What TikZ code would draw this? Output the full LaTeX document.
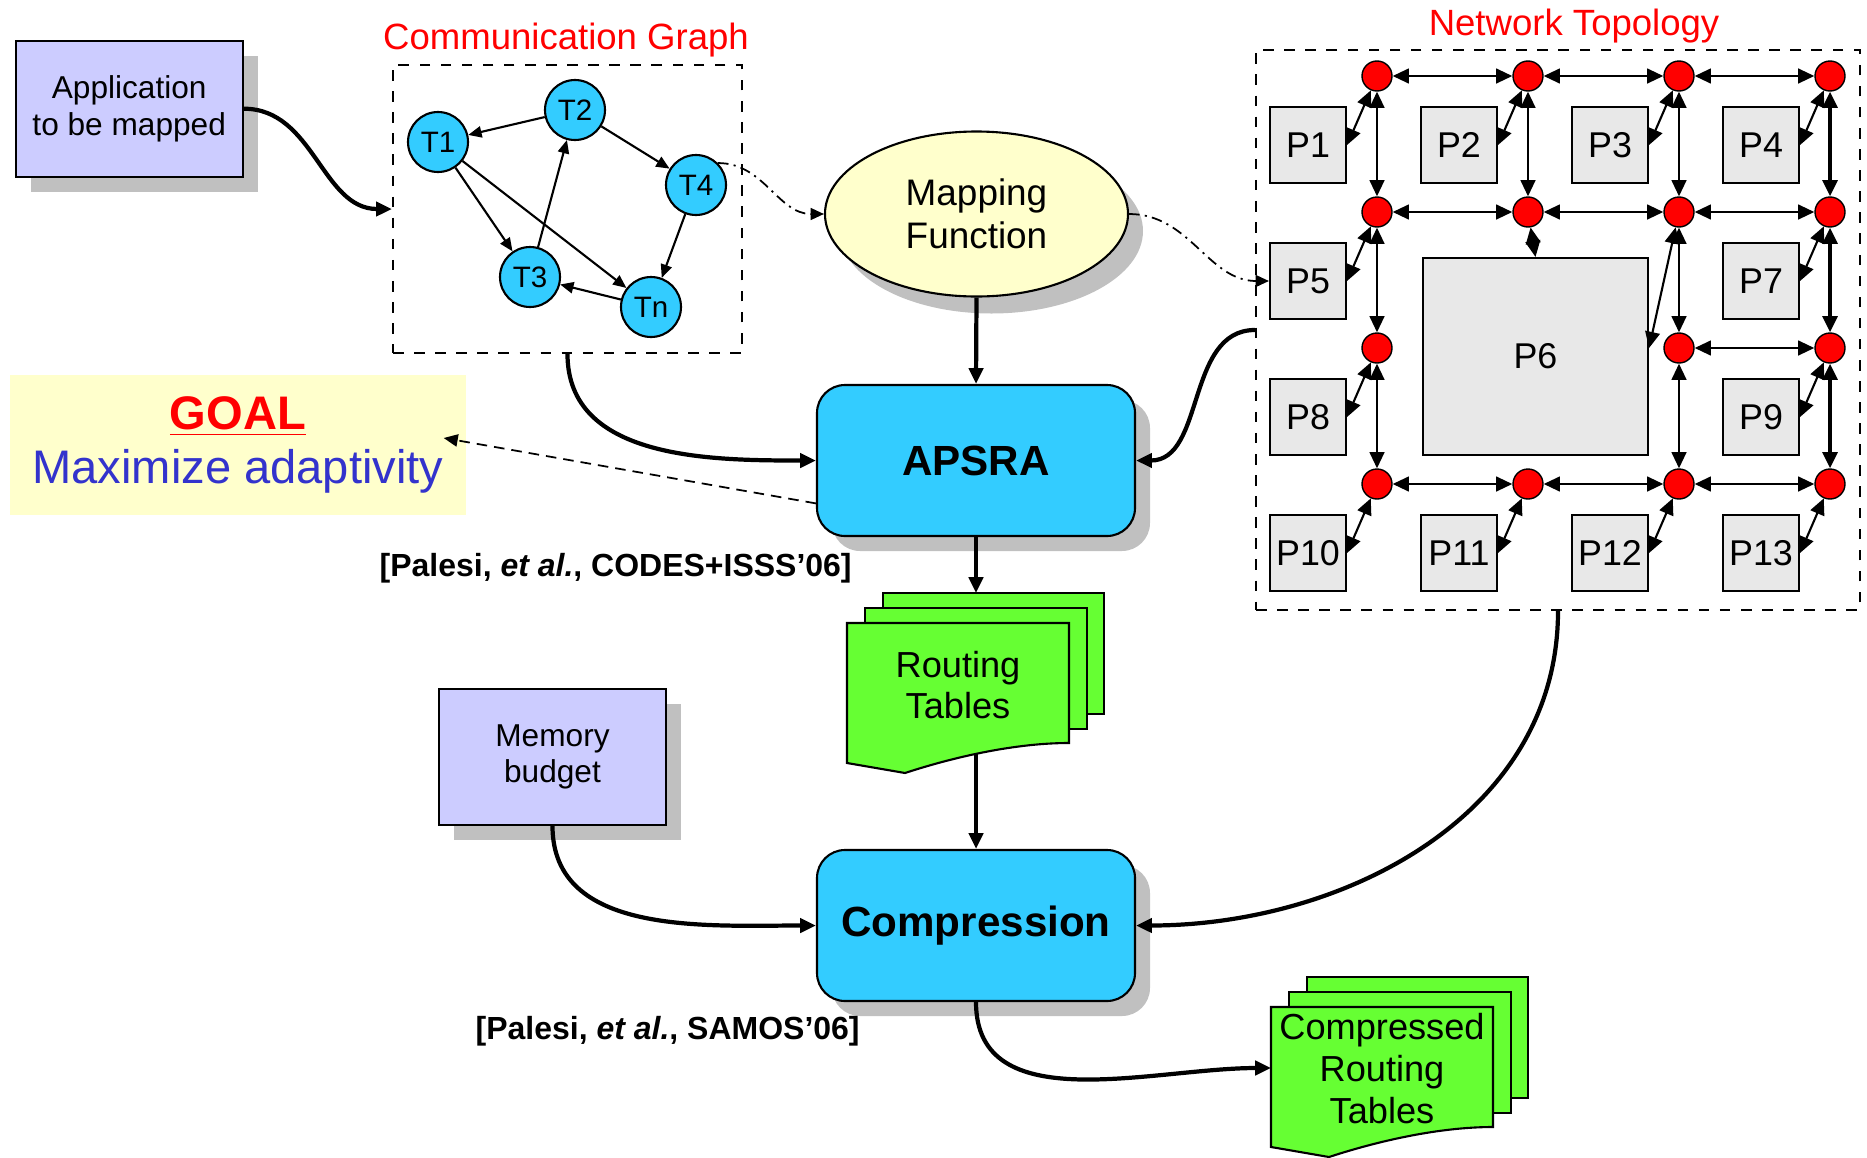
\documentclass[tikz,border=0pt]{standalone}
\usepackage{fontspec}
\setmainfont{Liberation Sans}
\usepackage{xcolor}
\usepackage{tikz}
\usetikzlibrary{arrows.meta,shapes.geometric,shadows}
\definecolor{plilac}{RGB}{204,204,255}
\definecolor{pshadow}{RGB}{192,192,192}
\definecolor{pcyan}{RGB}{51,204,255}
\definecolor{pcream}{RGB}{255,255,204}
\definecolor{pgreen}{RGB}{102,255,51}
\definecolor{pgray}{RGB}{232,232,232}
\definecolor{pblue}{RGB}{51,51,204}

\tikzset{
  shadebox/.style={drop shadow={shadow xshift=0.15cm, shadow yshift=-0.15cm, fill=pshadow, opacity=1}},
  inputbox/.style={draw, semithick, fill=plilac, shadebox, minimum width=2.27cm, minimum height=1.36cm, align=center, font=\fontsize{9}{10.4}\selectfont},
  task/.style={circle, draw, semithick, fill=pcyan, minimum size=0.6cm, inner sep=0pt, font=\fontsize{8.4}{10}\selectfont},
  stage/.style={draw, semithick, fill=pcyan, rounded corners=0.28cm, shadebox, minimum width=3.18cm, minimum height=1.51cm, font=\fontsize{12}{14}\selectfont\bfseries},
  router/.style={circle, draw, fill=red, minimum size=0.3cm, inner sep=0pt},
  core/.style={draw, semithick, fill=pgray, minimum size=0.76cm, inner sep=0pt, font=\fontsize{10.2}{12}\selectfont},
  sheet/.style={draw, semithick, fill=pgreen},
  sheettext/.style={align=center, inner sep=0pt, font=\fontsize{10.3}{11.9}\selectfont},
  title/.style={text=red, inner sep=0pt, font=\fontsize{10.4}{12}\selectfont},
  cite/.style={inner sep=0pt, anchor=base west, font=\fontsize{9.1}{11}\selectfont\bfseries},
  mainflow/.style={very thick, -{Triangle[length=4.5pt,width=4pt]}},
  tedge/.style={line width=0.6pt, -{Triangle[length=3.8pt,width=3.2pt]}},
  nlink/.style={line width=0.6pt, {Triangle[length=4.6pt,width=4.2pt]}-{Triangle[length=4.6pt,width=4.2pt]}},
  mapflow/.style={line width=0.5pt, dash pattern=on 3pt off 1.5pt on 0.6pt off 1.5pt, -{Triangle[length=3.8pt,width=3.4pt]}},
  goalflow/.style={line width=0.5pt, dash pattern=on 3pt off 2pt, -{Triangle[length=4pt,width=3.5pt]}}
}

\begin{document}
\begin{tikzpicture}
    \useasboundingbox (0,0) rectangle (18.67,-11.57);

    \node[inputbox] (app) at (1.292,-1.087) {Application\\to be mapped};
    \node[inputbox] (mem) at (5.525,-7.57) {Memory\\budget};

    \node[draw, semithick, dashed, minimum width=3.49cm, minimum height=2.88cm] (cg) at (5.675,-2.09) {};
    \node[title] (cgtitle) at (5.66,-0.40) {Communication Graph};
    \node[task] (t1) at (4.38,-1.42) {T1};
    \node[task] (t2) at (5.75,-1.10) {T2};
    \node[task] (t4) at (6.96,-1.85) {T4};
    \node[task] (t3) at (5.30,-2.77) {T3};
    \node[task] (tn) at (6.51,-3.07) {Tn};
    \draw[tedge] (t2) -- (t1);
    \draw[tedge] (t1) -- (t3);
    \draw[tedge] (t1) -- (tn);
    \draw[tedge] (t3) -- (t2);
    \draw[tedge] (t2) -- (t4);
    \draw[tedge] (t4) -- (tn);
    \draw[tedge] (tn) -- (t3);

    \node[ellipse, draw, semithick, fill=pcream, minimum width=3.03cm, minimum height=1.65cm, align=center,
          font=\fontsize{10.5}{12.3}\selectfont,
          drop shadow={shadow xshift=0.15cm, shadow yshift=-0.17cm, fill=pshadow, opacity=1}] (mf) at (9.765,-2.14) {Mapping\\Function};

    \node[fill=pcream, minimum width=4.56cm, minimum height=1.40cm, align=center, font=\fontsize{13.4}{15.6}\selectfont] (goal) at (2.38,-4.45)
        {\textcolor{red}{\bfseries\underline{GOAL}}\\\textcolor{pblue}{Maximize adaptivity}};

    \node[stage] (apsra) at (9.76,-4.605) {APSRA};
    \node[cite] (cite1) at (3.79,-5.76) {[Palesi, \textit{et al.}, CODES+ISSS'06]};
    \node[stage] (comp) at (9.76,-9.255) {Compression};
    \node[cite] (cite2) at (4.75,-10.395) {[Palesi, \textit{et al.}, SAMOS'06]};

    \begin{scope}[shift={(8.47,-6.23)}]
        \draw[sheet] (0.36,0.30) rectangle (2.57,-0.91);
        \draw[sheet] (0.18,0.15) rectangle (2.40,-1.06);
        \draw[sheet] (0,0) -- (2.22,0) -- (2.22,-1.20) .. controls (1.70,-1.20) and (1.10,-1.33) .. (0.58,-1.50) -- (0,-1.40) -- cycle;
    \end{scope}
    \node[sheettext] (rt) at (9.58,-6.85) {Routing\\Tables};
    \coordinate (rtin) at (9.76,-5.93);
    \coordinate (rtout) at (9.76,-7.54);

    \begin{scope}[shift={(12.71,-10.07)}]
        \draw[sheet] (0.36,0.30) rectangle (2.57,-0.91);
        \draw[sheet] (0.18,0.15) rectangle (2.40,-1.06);
        \draw[sheet] (0,0) -- (2.22,0) -- (2.22,-1.20) .. controls (1.70,-1.20) and (1.10,-1.33) .. (0.58,-1.50) -- (0,-1.40) -- cycle;
    \end{scope}
    \node[sheettext] (crt) at (13.82,-10.685) {Compressed\\Routing\\Tables};
    \coordinate (crtin) at (12.71,-10.68);

    \node[draw, semithick, dashed, minimum width=6.04cm, minimum height=5.60cm] (topo) at (15.58,-3.30) {};
    \node[title] (toptitle) at (15.74,-0.26) {Network Topology};

    \node[router] (r11) at (13.77,-0.76) {};
    \node[router] (r12) at (15.28,-0.76) {};
    \node[router] (r13) at (16.79,-0.76) {};
    \node[router] (r14) at (18.30,-0.76) {};
    \node[router] (r21) at (13.77,-2.12) {};
    \node[router] (r22) at (15.28,-2.12) {};
    \node[router] (r23) at (16.79,-2.12) {};
    \node[router] (r24) at (18.30,-2.12) {};
    \node[router] (r31) at (13.77,-3.48) {};
    \node[router] (r33) at (16.79,-3.48) {};
    \node[router] (r34) at (18.30,-3.48) {};
    \node[router] (r41) at (13.77,-4.84) {};
    \node[router] (r42) at (15.28,-4.84) {};
    \node[router] (r43) at (16.79,-4.84) {};
    \node[router] (r44) at (18.30,-4.84) {};

    \node[core] (p1) at (13.08,-1.45) {P1};
    \node[core] (p2) at (14.59,-1.45) {P2};
    \node[core] (p3) at (16.10,-1.45) {P3};
    \node[core] (p4) at (17.61,-1.45) {P4};
    \node[core] (p5) at (13.08,-2.81) {P5};
    \node[core, minimum width=2.25cm, minimum height=1.97cm] (p6) at (15.355,-3.565) {P6};
    \node[core] (p7) at (17.61,-2.81) {P7};
    \node[core] (p8) at (13.08,-4.17) {P8};
    \node[core] (p9) at (17.61,-4.17) {P9};
    \node[core] (p10) at (13.08,-5.53) {P10};
    \node[core] (p11) at (14.59,-5.53) {P11};
    \node[core] (p12) at (16.10,-5.53) {P12};
    \node[core] (p13) at (17.61,-5.53) {P13};

    \draw[nlink] (r11) -- (r12);
    \draw[nlink] (r12) -- (r13);
    \draw[nlink] (r13) -- (r14);
    \draw[nlink] (r21) -- (r22);
    \draw[nlink] (r22) -- (r23);
    \draw[nlink] (r23) -- (r24);
    \draw[nlink] (r33) -- (r34);
    \draw[nlink] (r41) -- (r42);
    \draw[nlink] (r42) -- (r43);
    \draw[nlink] (r43) -- (r44);
    \draw[nlink] (r11) -- (r21);
    \draw[nlink] (r21) -- (r31);
    \draw[nlink] (r31) -- (r41);
    \draw[nlink] (r12) -- (r22);
    \draw[nlink] (r13) -- (r23);
    \draw[nlink] (r23) -- (r33);
    \draw[nlink] (r33) -- (r43);
    \draw[nlink, line width=1pt] (r14) -- (r24);
    \draw[nlink, line width=1pt] (r24) -- (r34);
    \draw[nlink, line width=1pt] (r34) -- (r44);

    \draw[nlink] (r11) -- (p1.east);
    \draw[nlink] (r12) -- (p2.east);
    \draw[nlink] (r13) -- (p3.east);
    \draw[nlink] (r14) -- (p4.east);
    \draw[nlink] (r21) -- (p5.east);
    \draw[nlink] (r22) -- (p6.north);
    \draw[nlink] (r23) -- (p6.east |- r33);
    \draw[nlink] (r24) -- (p7.east);
    \draw[nlink] (r31) -- (p8.east);
    \draw[nlink] (r34) -- (p9.east);
    \draw[nlink] (r41) -- (p10.east);
    \draw[nlink] (r42) -- (p11.east);
    \draw[nlink] (r43) -- (p12.east);
    \draw[nlink] (r44) -- (p13.east);

    \draw[mainflow] (app.east) to[out=0, in=180] (cg.west);
    \draw[mainflow] (cg.south) to[out=-90, in=180] (apsra.west);
    \draw[mainflow] (mf.south) -- (apsra.north);
    \draw[mainflow] (topo.west) to[out=180, in=0] (apsra.east);
    \draw[mainflow] (apsra.south) -- (rtin);
    \draw[mainflow] (rtout) -- (comp.north);
    \draw[mainflow] (mem.south) to[out=-90, in=180] (comp.west);
    \draw[mainflow] (topo.south) to[out=-90, in=0] (comp.east);
    \draw[mainflow] (comp.south) to[out=-90, in=180] (crtin);
    \draw[mapflow] (t4.45) to[out=0, in=180] (mf.west);
    \draw[mapflow] (mf.east) to[out=0, in=180] (p5.west);
    \draw[goalflow] (apsra.195) -- ([xshift=-0.23cm, yshift=0.07cm]goal.east);
\end{tikzpicture}
\end{document}
